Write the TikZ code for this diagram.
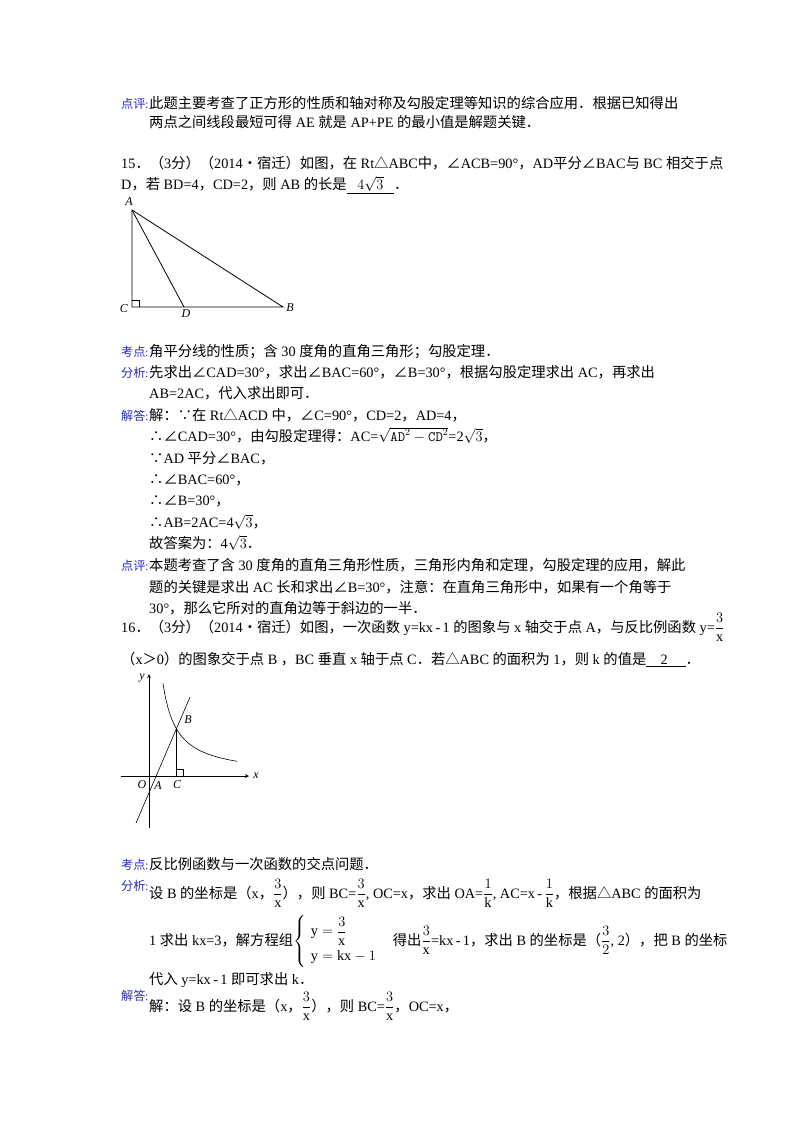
\documentclass[tikz,border=0pt]{standalone}
\usepackage{amsmath}
\usepackage{fontspec}
\setmainfont{Liberation Serif}
\newfontfamily\cjk{Noto Sans CJK SC}
\newcommand\Z[1]{{\cjk #1}}
\newcommand\LB[1]{{\cjk #1}\kern-0.5pt{\fontsize{12}{12}\selectfont :}}
\definecolor{lab}{RGB}{40,40,200}
\begin{document}
\begin{tikzpicture}[x=1pt,y=-1pt,
  t/.style={anchor=base west,inner sep=0pt,font=\fontsize{14.3}{17}\selectfont},
  lb/.style={anchor=base west,inner sep=0pt,text=lab,font=\fontsize{12.2}{14}\selectfont},
  fig/.style={line width=0.8pt},
  pl/.style={font=\itshape\fontsize{12}{14}\selectfont,inner sep=1pt}]
\useasboundingbox (0,0) rectangle (800,1132);
% ---- first block
\node[lb] (l1) at (121,108) {\LB{点评}};
\node[t] (l1t) at (149,108) {\Z{此题主要考查了正方形的性质和轴对称及勾股定理等知识的综合应用．根据已知得出}};
\node[t] (l2) at (149,127) {\Z{两点之间线段最短可得} AE \Z{就是} AP+PE \Z{的最小值是解题关键．}};
% ---- problem 15
\node[t] (p15a) at (121,168) {15\Z{．（}3\Z{分）（}2014\Z{•宿迁）如图，在} Rt\Z{△}ABC\Z{中，∠}ACB=90°\Z{，}AD\Z{平分∠}BAC\Z{与} BC \Z{相交于点}};
\node[t] (p15b) at (121,189) {D\Z{，若} BD=4\Z{，}CD=2\Z{，则} AB \Z{的长是}\underline{\ \ \ $4\sqrt{3}$\ \ \ }\Z{．}};
% triangle
\coordinate (A) at (132,210);
\coordinate (C) at (132,307);
\coordinate (D) at (184,307);
\coordinate (B) at (283,307);
\draw[fig] (A) -- (C) -- (B) -- cycle;
\draw[fig] (A) -- (D);
\draw[line width=0.6pt] (132,300) -- (139,300) -- (139,307);
\node[pl] (nA) at (129,202) {A};
\node[pl] (nC) at (124,309) {C};
\node[pl] (nD) at (186,314) {D};
\node[pl] (nB) at (290,308) {B};
% ---- solution 15
\node[lb] (k1) at (121,356) {\LB{考点}};
\node[t] at (149,356) {\Z{角平分线的性质；含} 30 \Z{度角的直角三角形；勾股定理．}};
\node[lb] (k2) at (121,377) {\LB{分析}};
\node[t] at (149,377) {\Z{先求出∠}CAD=30°\Z{，求出∠}BAC=60°\Z{，∠}B=30°\Z{，根据勾股定理求出} AC\Z{，再求出}};
\node[t] at (149,398) {AB=2AC\Z{，代入求出即可．}};
\node[lb] (k3) at (121,420) {\LB{解答}};
\node[t] at (149,420) {\Z{解：∵在} Rt\Z{△}ACD \Z{中，∠}C=90°\Z{，}CD=2\Z{，}AD=4\Z{，}};
\node[t] at (149,441) {\Z{∴∠}CAD=30°\Z{，由勾股定理得：}AC=$\sqrt{\mathtt{AD}^2-\mathtt{CD}^2}$=2$\sqrt{3}$\Z{，}};
\node[t] at (149,463) {\Z{∵}AD \Z{平分∠}BAC\Z{，}};
\node[t] at (149,484) {\Z{∴∠}BAC=60°\Z{，}};
\node[t] at (149,505) {\Z{∴∠}B=30°\Z{，}};
\node[t] at (149,527) {\Z{∴}AB=2AC=4$\sqrt{3}$\Z{，}};
\node[t] at (149,548) {\Z{故答案为：}4$\sqrt{3}$\Z{．}};
\node[lb] (k4) at (121,570) {\LB{点评}};
\node[t] at (149,570) {\Z{本题考查了含} 30 \Z{度角的直角三角形性质，三角形内角和定理，勾股定理的应用，解此}};
\node[t] at (149,592) {\Z{题的关键是求出} AC \Z{长和求出∠}B=30°\Z{，注意：在直角三角形中，如果有一个角等于}};
\node[t] at (149,613) {30°\Z{，那么它所对的直角边等于斜边的一半．}};
% ---- problem 16
\node[t] (p16a) at (121,632) {16\Z{．（}3\Z{分）（}2014\Z{•宿迁）如图，一次函数} y=kx\,-\,1 \Z{的图象与} x \Z{轴交于点} A\Z{，与反比例函数} y=$\dfrac{3}{\mathrm{x}}$};
\node[t] (p16b) at (121,664) {\Z{（}x\Z{＞}0\Z{）的图象交于点} B \Z{，}BC \Z{垂直} x \Z{轴于点} C\Z{．若△}ABC \Z{的面积为} 1\Z{，则} k \Z{的值是}\underline{\ \ \ \ 2\ \ \ \ \ }\Z{．}};
% graph
\coordinate (O) at (149,776);
\coordinate (yb) at (149,828);
\coordinate (yt) at (149,674);
\coordinate (xl) at (121,776);
\coordinate (xr) at (249,776);
\draw[fig,->,>=stealth] (yb) -- (yt);
\draw[fig,->,>=stealth] (xl) -- (xr);
\draw[line width=0.6pt] (136,823) -- (190,697);
\draw[line width=0.6pt,domain=14:88,samples=60,smooth] plot ({149+\x},{776-1296/\x});
\draw[line width=0.6pt] (176,728) -- (176,776);
\draw[line width=0.5pt] (176,769) -- (183,769) -- (183,776);
\node[pl] (gy) at (142,678) {y};
\node[pl] (gx) at (256,776) {x};
\node[pl] (gO) at (142,785) {O};
\node[pl] (gA) at (158,786) {A};
\node[pl] (gC) at (177,785) {C};
\node[pl] (gB) at (188,720) {B};
% ---- solution 16
\node[lb] at (121,869) {\LB{考点}};
\node[t] at (149,869) {\Z{反比例函数与一次函数的交点问题．}};
\node[lb] at (121,890) {\LB{分析}};
\node[t] at (149,898) {\Z{设} B \Z{的坐标是（}x\Z{，}$\dfrac{3}{\mathrm{x}}$\Z{），则} BC=$\dfrac{3}{\mathrm{x}}$, OC=x\Z{，求出} OA=$\dfrac{1}{\mathrm{k}}$, AC=x\,-\,$\dfrac{1}{\mathrm{k}}$\Z{，根据△}ABC \Z{的面积为}};
\node[t] at (149,945) {1 \Z{求出} kx=3\Z{，解方程组}$\left\{\begin{array}{l}\mathrm{y}=\dfrac{3}{\mathrm{x}}\\[8pt] \mathrm{y}=\mathrm{kx}-1\end{array}\right.$ \ \ \Z{得出}$\dfrac{3}{\mathrm{x}}$=kx\,-\,1\Z{，求出} B \Z{的坐标是（}$\dfrac{3}{2}$, 2\Z{），把} B \Z{的坐标}};
\node[t] at (149,984) {\Z{代入} y=kx\,-\,1 \Z{即可求出} k\Z{．}};
\node[lb] at (121,1000) {\LB{解答}};
\node[t] at (149,1011) {\Z{解：设} B \Z{的坐标是（}x\Z{，}$\dfrac{3}{\mathrm{x}}$\Z{），则} BC=$\dfrac{3}{\mathrm{x}}$\Z{，}OC=x\Z{，}};
\end{tikzpicture}
\end{document}
